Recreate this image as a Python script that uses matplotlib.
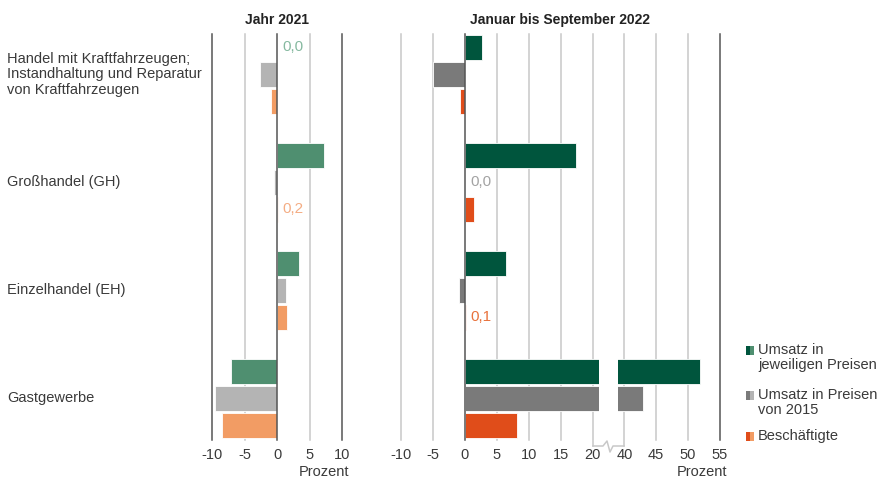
import matplotlib.pyplot as plt
import matplotlib.transforms as mtransforms
from matplotlib.patches import Rectangle
from matplotlib.lines import Line2D

plt.rcParams['font.family'] = ['Liberation Sans', 'DejaVu Sans']

# --- Data ---
categories = ["Handel mit Kraftfahrzeugen;\nInstandhaltung und Reparatur\nvon Kraftfahrzeugen",
              "Großhandel (GH)", "Einzelhandel (EH)", "Gastgewerbe"]
series = ["Umsatz in\njeweiligen Preisen", "Umsatz in Preisen\nvon 2015", "Beschäftigte"]

nominal_2021 = [0.0, 7.2, 3.4, -7.1]
real_2021 = [-2.6, -0.5, 1.4, -9.5]
jobs_2021 = [-0.9, 0.2, 1.6, -8.4]

nominal_2022 = [2.7, 17.4, 6.4, 51.8]
real_2022 = [-5.0, 0.0, -0.9, 42.9]
jobs_2022 = [-0.7, 1.4, 0.1, 8.2]

ticks_left = [-10, -5, 0, 5, 10]
ticks_right_a = [-10, -5, 0, 5, 10, 15, 20]
ticks_right_b = [40, 45, 50, 55]

# --- Colours ---
col_2021 = ['#4f8f70', '#b4b4b4', '#f29c64']
col_2022 = ['#00553d', '#7a7a7a', '#e04d1a']
lab_2021 = ['#86b9a0', '#b4b4b4', '#f4ad84']
lab_2022 = ['#00553d', '#a3a3a3', '#e8723c']
grid_light = '#c8c8c8'
grid_dark = '#555555'
text_col = '#3a3a3a'
fs = 10.5

W, H = 882, 482
fig = plt.figure(figsize=(W / 100, H / 100), dpi=100)


def box(x0, y0, x1, y1):
    return [x0 / W, 1 - y1 / H, (x1 - x0) / W, (y1 - y0) / H]


def fxy(x, y):
    return x / W, 1 - y / H


ax_l = fig.add_axes(box(212, 34, 342, 440))
ax_a = fig.add_axes(box(401, 34, 599, 440))
ax_b = fig.add_axes(box(618, 34, 720, 440))

ax_l.set_xlim(-10, 10)
ax_a.set_xlim(-10, 21)
ax_b.set_xlim(39, 55)

for ax in (ax_l, ax_a, ax_b):
    ax.set_ylim(14.54, -0.5)
    for s in ax.spines.values():
        s.set_visible(False)
    ax.set_yticks([])
    ax.tick_params(axis='x', length=0, pad=6, labelsize=fs, labelcolor=text_col)


def draw_bars(ax, values, colors, labcols, label_dx=None):
    for s, vals in enumerate(values):
        ys = [4 * g + s for g in range(len(vals))]
        ax.barh(ys, vals, height=0.92, color=colors[s], edgecolor='white',
                linewidth=0.6, zorder=2)
        if label_dx is None:
            continue
        for y, v in zip(ys, vals):
            if abs(v) < 0.25:
                ax.text(label_dx, y, f"{v:.1f}".replace('.', ','), color=labcols[s],
                        fontsize=11, ha='left', va='center', zorder=4)


draw_bars(ax_l, [nominal_2021, real_2021, jobs_2021], col_2021, lab_2021, 0.8)
draw_bars(ax_a, [nominal_2022, real_2022, jobs_2022], col_2022, lab_2022, 0.8)
draw_bars(ax_b, [nominal_2022, real_2022, jobs_2022], col_2022, lab_2022)

# --- Grid lines ---
for x in ticks_left:
    c = grid_dark if x in (-10, 0, 10) else grid_light
    ax_l.axvline(x, color=c, lw=1.1, zorder=3 if x == 0 else 1, clip_on=False)
for x in ticks_right_a:
    c = grid_dark if x == 0 else grid_light
    ext = -0.015 if x == 20 else 0
    ax_a.axvline(x, ymin=ext, color=c, lw=1.1, zorder=3 if x == 0 else 1, clip_on=False)
for x in ticks_right_b:
    c = grid_dark if x == 55 else grid_light
    ext = -0.015 if x == 40 else 0
    ax_b.axvline(x, ymin=ext, color=c, lw=1.1, zorder=1, clip_on=False)

# break marker between 20 and 40
bx = [593, 603, 607, 610, 613, 624]
by = [446, 446, 441, 452, 446, 446]
pts = [fxy(x, y) for x, y in zip(bx, by)]
fig.add_artist(Line2D([p[0] for p in pts], [p[1] for p in pts],
                      transform=fig.transFigure, color=grid_light, lw=1.1))

ax_l.set_xticks(ticks_left, [str(t) for t in ticks_left])
ax_a.set_xticks(ticks_right_a, [str(t) for t in ticks_right_a])
ax_b.set_xticks(ticks_right_b, [str(t) for t in ticks_right_b])

# --- Titles and axis labels ---
fig.text(*fxy(277, 20), "Jahr 2021", ha='center', va='center', fontsize=10,
         fontweight='bold', color='#222222')
fig.text(*fxy(560, 20), "Januar bis September 2022", ha='center', va='center',
         fontsize=10, fontweight='bold', color='#222222')
fig.text(*fxy(349, 472), "Prozent", ha='right', va='center', fontsize=fs, color=text_col)
fig.text(*fxy(727, 472), "Prozent", ha='right', va='center', fontsize=fs, color=text_col)

# --- Category labels ---
trans = mtransforms.blended_transform_factory(fig.transFigure, ax_l.transData)
for g, cat in enumerate(categories):
    ax_l.text(7 / W, 4 * g + 1, cat, transform=trans, ha='left', va='center',
              fontsize=fs, color=text_col, linespacing=1.15, clip_on=False)

# --- Legend (drawn by hand, two-tone markers) ---
leg_tops = [343, 388, 429]
for s, (name, top) in enumerate(zip(series, leg_tops)):
    x0, y0 = fxy(746, top + 12)
    fig.add_artist(Rectangle((x0, y0), 4 / W, 9 / H, transform=fig.transFigure,
                             color=col_2022[s], lw=0))
    fig.add_artist(Rectangle((x0 + 4 / W, y0), 4 / W, 9 / H, transform=fig.transFigure,
                             color=col_2021[s], lw=0))
    fig.text(*fxy(758, top), name, ha='left', va='top', fontsize=fs,
             color=text_col, linespacing=1.1)

fig.savefig("out.png", dpi=100)
